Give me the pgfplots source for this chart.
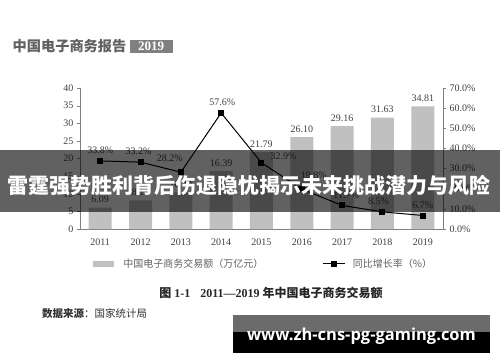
\documentclass[border=0pt]{standalone}
\usepackage{pgfplots}
\pgfplotsset{compat=1.18}
\usepackage{fontspec}
\setmainfont{Liberation Serif}
\newfontfamily\cjk{Noto Sans CJK SC}
\newfontfamily\osans{Open Sans}
\definecolor{bargray}{HTML}{C0C0C0}
\definecolor{txt}{HTML}{404040}
\pgfplotsset{
  linelegend/.style={legend image code/.code={\draw[mark repeat=2,mark phase=2,##1] plot coordinates {(0pt,0pt) (11pt,0pt) (22pt,0pt)}; \path (29pt,0pt);}},
  mylegend/.style={legend style={draw=none, fill=none, inner sep=0pt, outer sep=0pt,
    font=\cjk\fontsize{10}{10}\selectfont, text=black!62,
    nodes={inner sep=0pt, outer sep=0pt}}}
}
\begin{document}
\begin{tikzpicture}[x=1pt,y=1pt]
\path[use as bounding box] (0,0) rectangle (500,362);
% header
\node[anchor=west, inner sep=0, text=black!62, font=\cjk\bfseries\fontsize{14.2}{14.2}\selectfont] at (12.5,315.5) {中国电子商务报告};
\node[fill=black!50, text=white, font=\bfseries\fontsize{13}{13}\selectfont, minimum width=43pt, minimum height=13pt, inner sep=0] at (151,315.5) {2019};

\begin{axis}[at={(80pt,133pt)}, anchor=south west, scale only axis,
  width=363pt, height=141pt,
  xmin=-0.5, xmax=8.5, ymin=0, ymax=40,
  ytick={0,5,...,40}, xtick={0,...,8},
  xticklabels={2011,2012,2013,2014,2015,2016,2017,2018,2019},
  axis x line*=bottom, axis y line*=left,
  axis line style={black!50, line width=0.6pt},
  x axis line style={-}, y axis line style={-},
  tick style={black!50}, major tick length=3pt,
  xtick style={draw=none},
  tick align=outside,
  /pgf/number format/assume math mode=true,
  ticklabel style={font=\fontsize{10}{10}\selectfont, text=txt},
  xticklabel style={yshift=-3pt},
  clip=false, mylegend,
  legend style={at={(axis description cs:0.0358,-0.248)}, anchor=west}]
\addlegendimage{legend image code/.code={\fill[bargray] (0pt,-2.5pt) rectangle (20pt,2.5pt); \path (30pt,0pt);}}
\addlegendentry{中国电子商务交易额（万亿元）}
\addplot[ybar, bar width=23pt, fill=bargray, draw=none,
  nodes near coords, point meta=explicit symbolic,
  nodes near coords style={font=\fontsize{10}{10}\selectfont, text=txt, yshift=1pt}]
  table[meta=label]{
x y label
0 6.09 6.09
1 8.11 8.11
2 10.40 10.40
3 16.39 16.39
4 21.79 21.79
5 26.10 26.10
6 29.16 29.16
7 31.63 31.63
8 34.81 34.81
};
\end{axis}

\begin{axis}[at={(80pt,133pt)}, anchor=south west, scale only axis,
  width=363pt, height=141pt,
  xmin=-0.5, xmax=8.5, ymin=0, ymax=70,
  ytick={0,10,...,70},
  yticklabel={\pgfmathprintnumber[fixed,fixed zerofill,precision=1]{\tick}\%},
  axis y line*=right, axis x line=none,
  y axis line style={-, black!50, line width=0.6pt},
  tick style={black!50}, major tick length=3pt, tick align=outside,
  /pgf/number format/assume math mode=true,
  ticklabel style={font=\fontsize{10}{10}\selectfont, text=txt},
  clip=false, mylegend,
  legend style={at={(axis description cs:0.669,-0.248)}, anchor=west}]
\addplot[black, line width=1pt, mark=square*, mark size=2.5pt,
  mark options={solid}, linelegend,
  nodes near coords, point meta=explicit symbolic,
  visualization depends on={\thisrow{dx}\as\dx},
  visualization depends on={\thisrow{dy}\as\dy},
  nodes near coords style={font=\fontsize{10}{10}\selectfont, text=txt, anchor=center, xshift=\dx pt, yshift=\dy pt}]
  table[meta=label]{
x y label dx dy
0 33.8 33.8\% 0 11
1 33.2 33.2\% -2 11
2 28.2 28.2\% -11 14
3 57.6 57.6\% 1 11
4 32.9 32.9\% 22 6
5 19.8 19.8\% 12 14
6 11.7 11.7\% 4 10
7 8.5 8.5\% -4 11
8 6.7 6.7\% 0 10
};
\addlegendentry{同比增长率（\%）}
\end{axis}

% caption and source
\node[font=\bfseries\fontsize{12}{12}\selectfont, text=black!85] at (271,69)
  {{\cjk 图} 1-1\hspace{10pt}2011—2019 {\cjk 年中国电子商务交易额}};
\node[anchor=west, inner sep=0, font=\cjk\fontsize{10.5}{10.5}\selectfont, text=black!80] at (42,48)
  {{\bfseries 数据来源}：国家统计局};

% overlay banner
\fill[black, fill opacity=0.62] (0,150) rectangle (500,212);
\node[text=white, font=\cjk\bfseries\fontsize{21}{21}\selectfont, inner sep=0] at (249,177)
  {雷霆强势胜利背后伤退隐忧揭示未来挑战潜力与风险};

% watermark box
\fill[black!58] (233,30) rectangle (490,47);
\fill[black] (233,9) rectangle (490,30);
\node[text=white, font=\osans\bfseries\fontsize{16.5}{16.5}\selectfont, inner sep=0] at (361.5,26)
  {www.zh-cns-pg-gaming.com};
\end{tikzpicture}
\end{document}
